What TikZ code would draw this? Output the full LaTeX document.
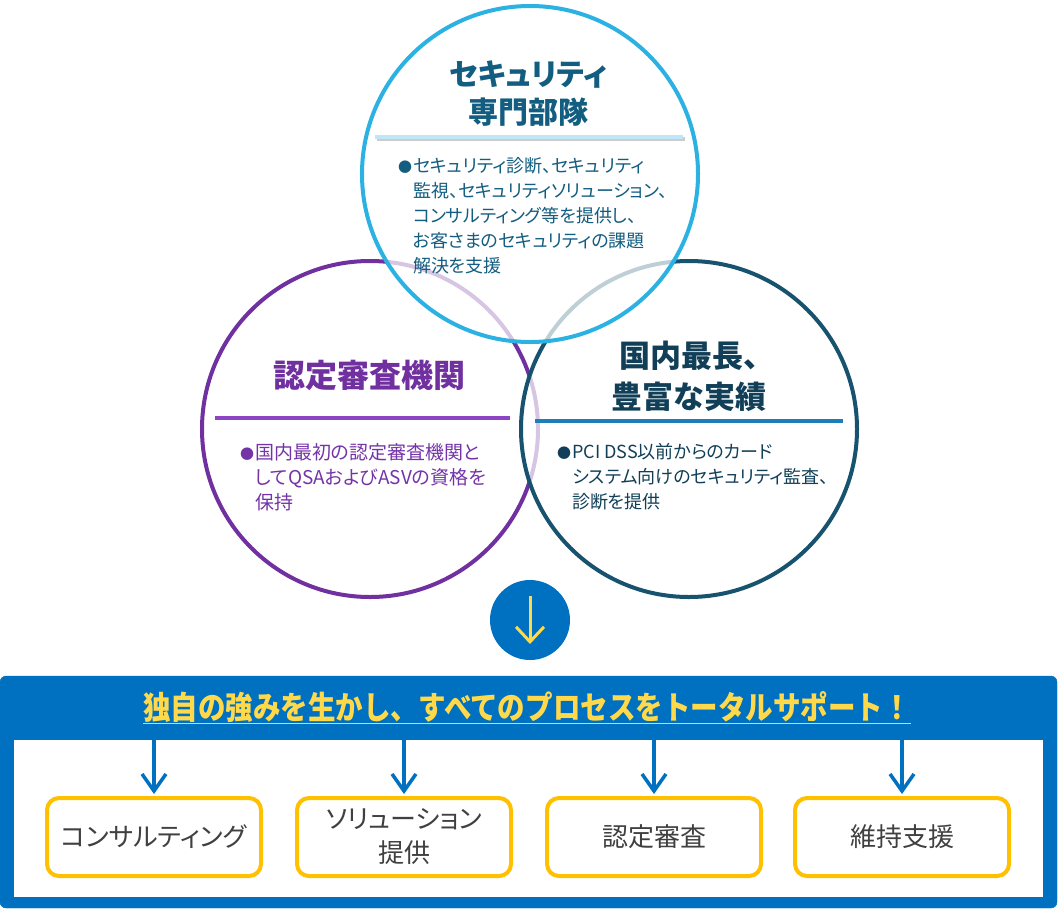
\documentclass[tikz,border=0pt]{standalone}
\usepackage{fontspec}
\setmainfont{Noto Sans CJK JP}[RawFeature=+palt]
\newfontfamily\narrowjp{Noto Sans CJK JP}[FakeStretch=0.86]
\usetikzlibrary{arrows.meta}
\definecolor{secline}{HTML}{2CB1E3}
\definecolor{sectext}{HTML}{125D80}
\definecolor{secrule}{HTML}{BEE6F6}
\definecolor{qsaline}{HTML}{7030A0}
\definecolor{qsatext}{HTML}{7434A8}
\definecolor{qsarule}{HTML}{8D45C6}
\definecolor{expline}{HTML}{17536F}
\definecolor{exptext}{HTML}{113F57}
\definecolor{exprule}{HTML}{1F7EB8}
\definecolor{panelblue}{HTML}{0070C0}
\definecolor{hiyellow}{HTML}{FFD94A}
\definecolor{boxyellow}{HTML}{FFC000}
\definecolor{boxtext}{HTML}{404040}
\newcommand{\bul}{\makebox[15pt][l]{\fontsize{14}{14}\selectfont ●}}
\newcommand{\ind}{\hspace*{15pt}}
\begin{document}
\begin{tikzpicture}[x=1pt,y=-1pt,
    ring/.style={circle,minimum size=336pt,line width=4pt,fill=white,fill opacity=.72,draw opacity=1},
    title/.style={align=center,font=\bfseries\fontsize{30}{38}\selectfont},
    body/.style={align=left,anchor=north west,inner sep=0pt,font=\fontsize{18}{25}\selectfont},
    stepbox/.style={draw=boxyellow,line width=4pt,fill=white,rounded corners=12pt,
        minimum width=214pt,minimum height=78pt,align=center,text=boxtext,
        font=\fontsize{26}{34}\selectfont},
    drop/.style={->,panelblue,line width=3.5pt,shorten >=2pt},
    >={Straight Barb[length=17pt,width=24pt]}]
    \useasboundingbox (0,0) rectangle (1059,911);

    % three overlapping circles
    \node[ring,draw=qsaline] (qsa) at (370,429) {};
    \node[ring,draw=expline] (exp) at (689,429) {};
    \node[ring,draw=secline] (sec) at (530,174) {};

    % security team
    \node[title,text=sectext] (sec-title) at (528,94)
        {セキュリティ\\専門部隊};
    \draw[black,opacity=.2,line width=4pt] (377,139) -- (685,139);
    \draw[secrule,line width=4pt] (375,137) -- (683,137);
    \node[body,text=sectext] (sec-text) at (398,157)
        {\bul セキュリティ診断、セキュリティ\\
         \ind 監視、セキュリティソリューション、\\
         \ind コンサルティング等を提供し、\\
         \ind お客さまのセキュリティの課題\\
         \ind 解決を支援};

    % accreditation body
    \node[title,text=qsaline,font=\bfseries\fontsize{32}{38}\selectfont]
        (qsa-title) at (369,375) {認定審査機関};
    \draw[qsarule,line width=4pt] (215,418) -- (510,418);
    \node[body,text=qsatext,font=\fontsize{19}{25}\selectfont] (qsa-text) at (240,443)
        {\bul 国内最初の認定審査機関と\\
         \ind してQSAおよびASVの資格を\\
         \ind 保持};

    % experience
    \node[title,text=exptext,font=\bfseries\fontsize{31}{41}\selectfont]
        (exp-title) at (689,376) {国内最長、\\豊富な実績};
    \draw[exprule,line width=4pt] (535,421) -- (843,421);
    \node[body,text=exptext] (exp-text) at (557,443)
        {\bul PCI DSS以前からのカード\\
         \ind システム向けのセキュリティ監査、\\
         \ind 診断を提供};

    % down arrow
    \node[circle,fill=panelblue,minimum size=80pt] (down) at (530,620) {};
    \coordinate (down-top) at (530,596);
    \coordinate (down-end) at (530,644);
    \draw[->,hiyellow,line width=3pt,>={Straight Barb[length=15pt,width=28pt]}]
        (down-top) -- (down-end);

    % support panel
    \draw[fill=panelblue,draw=panelblue,rounded corners=6pt] (0,676) rectangle (1057,908);
    \fill[white] (14,740) rectangle (1043,897);
    \node[text=hiyellow,font=\narrowjp\bfseries\fontsize{32}{36}\selectfont,inner sep=0pt]
        (motto) at (527,707) {独自の強みを生かし、すべてのプロセスをトータルサポート！};
    \draw[hiyellow,line width=1.8pt]
        ([yshift=-4pt]motto.base west) -- ([yshift=-4pt]motto.base east);

    \foreach \i/\x/\txt in {1/154/コンサルティング,2/404/{ソリューション\\提供},
                            3/654/認定審査,4/902/維持支援}{
        \node[stepbox] (box\i) at (\x,837) {\txt};
        \coordinate (feed\i) at (\x,740);
        \draw[drop] (feed\i) -- (box\i.north);
    }
\end{tikzpicture}
\end{document}
